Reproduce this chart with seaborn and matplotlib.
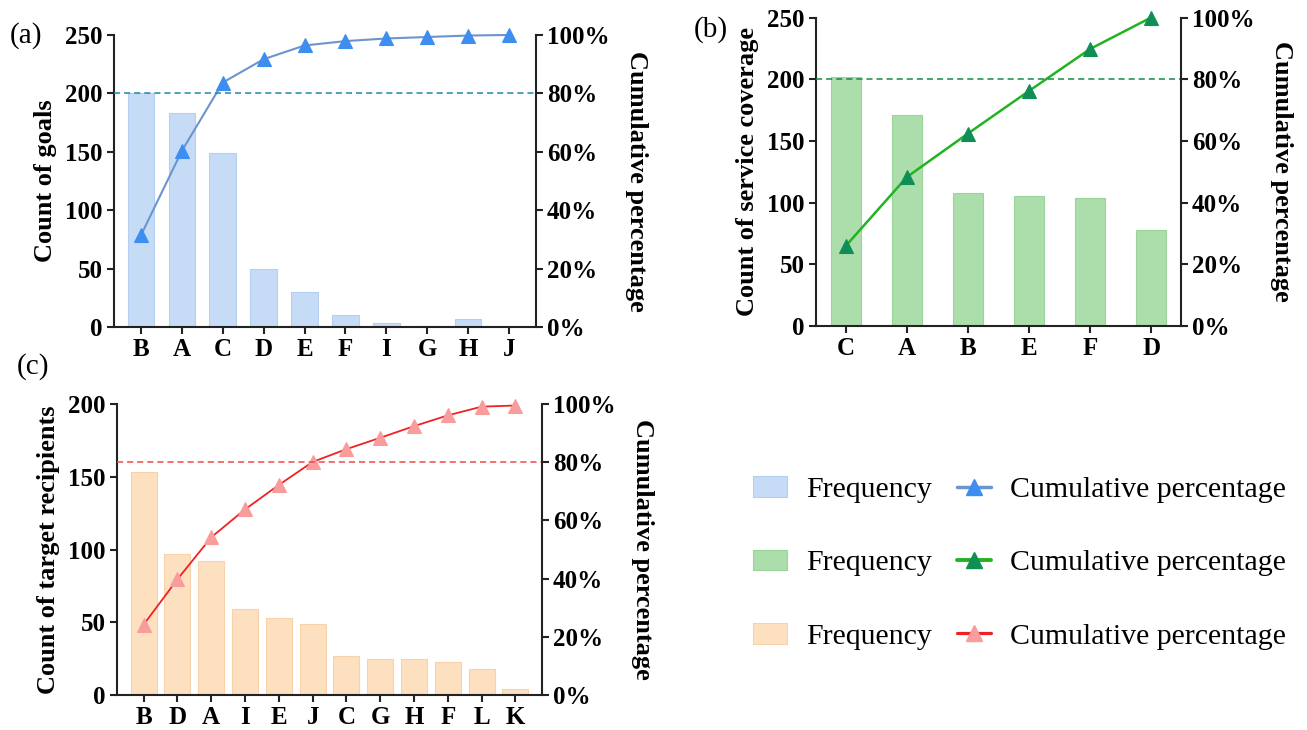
import numpy as np
import matplotlib
matplotlib.use('Agg')
import matplotlib.pyplot as plt
import seaborn as sns
from matplotlib.patches import Patch
from matplotlib.lines import Line2D
from matplotlib.ticker import FuncFormatter, MultipleLocator

# (a) goals
goal_cats = ['B', 'A', 'C', 'D', 'E', 'F', 'I', 'G', 'H', 'J']
goal_counts = [200, 183, 149, 50, 30, 10, 3, 1, 7, 0]
goal_cum = [31.4, 60.3, 83.7, 91.7, 96.4, 97.9, 98.8, 99.3, 99.8, 100.0]

# (b) service coverage
serv_cats = ['C', 'A', 'B', 'E', 'F', 'D']
serv_counts = [202, 171, 108, 105, 104, 78]
serv_cum = [26.0, 48.3, 62.4, 76.2, 89.8, 100.0]

# (c) target recipients
recip_cats = ['B', 'D', 'A', 'I', 'E', 'J', 'C', 'G', 'H', 'F', 'L', 'K']
recip_counts = [153, 97, 92, 59, 53, 49, 27, 25, 25, 23, 18, 4]
recip_cum = [24.2, 39.8, 54.2, 63.8, 72.2, 80.1, 84.5, 88.4, 92.4, 96.1, 99.1, 99.5]

sns.set_theme(style='ticks')
plt.rcParams['font.family'] = ['Liberation Serif', 'DejaVu Serif']
plt.rcParams['font.weight'] = 'bold'
plt.rcParams['axes.labelweight'] = 'bold'
plt.rcParams['text.color'] = 'black'
plt.rcParams['axes.labelcolor'] = 'black'
plt.rcParams['axes.linewidth'] = 1.5
plt.rcParams['axes.edgecolor'] = '#222222'
for k in ['xtick', 'ytick']:
    plt.rcParams[k + '.major.width'] = 1.5
    plt.rcParams[k + '.major.size'] = 5
    plt.rcParams[k + '.major.pad'] = 3
    plt.rcParams[k + '.color'] = '#222222'
    plt.rcParams[k + '.labelcolor'] = 'black'
    plt.rcParams[k + '.labelsize'] = 18

styles = {
    'a': dict(bar='#c6dcf6', edge='#b4cff0', line='#6b95cc', mark='#3d8ef0', dash='#1f88a8', lw=1.5),
    'b': dict(bar='#acdeac', edge='#9ad49a', line='#22b322', mark='#0f8f56', dash='#158a4a', lw=1.8),
    'c': dict(bar='#fde0c0', edge='#f8d2aa', line='#ee2222', mark='#f89c9c', dash='#f04848', lw=1.3),
}


def pareto(ax, cats, counts, cum, st, ymax, bar_w, margin, ylab):
    sns.barplot(x=cats, y=counts, order=cats, color=st['bar'], edgecolor=st['edge'],
                linewidth=0.8, width=bar_w, saturation=1, errorbar=None, ax=ax)
    ax2 = ax.twinx()
    sns.lineplot(x=np.arange(len(cats)), y=cum, ax=ax2, color=st['line'], lw=st['lw'],
                 marker='^', markersize=9.5, markerfacecolor=st['mark'],
                 markeredgecolor=st['mark'], markeredgewidth=0.8, clip_on=False)
    ax2.axhline(80, color=st['dash'], lw=1.1, dashes=(4, 2.6))
    ax.set_xlim(-margin, len(cats) - 1 + margin)
    ax.set_ylim(0, ymax)
    ax.yaxis.set_major_locator(MultipleLocator(50))
    ax2.set_ylim(0, 100)
    ax2.yaxis.set_major_locator(MultipleLocator(20))
    ax2.yaxis.set_major_formatter(FuncFormatter(lambda v, p: f'{v:.0f}%'))
    ax.spines['top'].set_visible(False)
    ax.spines['right'].set_visible(False)
    for s in ['top', 'left', 'bottom']:
        ax2.spines[s].set_visible(False)
    ax.set_xlabel('')
    ax.set_ylabel(ylab, fontsize=19, labelpad=6)
    ax2.set_ylabel('Cumulative percentage', fontsize=19, rotation=270, va='bottom', labelpad=11)
    return ax2


fig = plt.figure(figsize=(13.07, 7.30), dpi=100)
ax_a = fig.add_axes([0.0872, 0.5521, 0.3229, 0.400])
ax_b = fig.add_axes([0.6243, 0.5534, 0.2793, 0.4226])
ax_c = fig.add_axes([0.0895, 0.0479, 0.3252, 0.3986])

pareto(ax_a, goal_cats, goal_counts, goal_cum, styles['a'], 250, 0.65, 0.66, 'Count of goals')
pareto(ax_b, serv_cats, serv_counts, serv_cum, styles['b'], 250, 0.5, 0.49, 'Count of service coverage')
pareto(ax_c, recip_cats, recip_counts, recip_cum, styles['c'], 200, 0.77, 0.79, 'Count of target recipients')

fig.text(10 / 1307, 1 - 36 / 730, '(a)', fontsize=21, fontweight='normal', ha='left', va='center')
fig.text(694 / 1307, 1 - 30 / 730, '(b)', fontsize=21, fontweight='normal', ha='left', va='center')
fig.text(17 / 1307, 1 - 367 / 730, '(c)', fontsize=21, fontweight='normal', ha='left', va='center')

handles = []
for key in ['a', 'b', 'c']:
    st = styles[key]
    handles.append(Patch(facecolor=st['bar'], edgecolor=st['edge'], lw=0.8))
for key in ['a', 'b', 'c']:
    st = styles[key]
    handles.append(Line2D([], [], color=st['line'], lw=st['lw'] + 1.0, marker='^', markersize=11,
                          markerfacecolor=st['mark'], markeredgecolor=st['mark']))
labels = ['Frequency'] * 3 + ['Cumulative percentage'] * 3
fig.legend(handles, labels, ncol=2, loc='center left', bbox_to_anchor=(753 / 1307, 1 - 563 / 730),
           frameon=False, prop={'family': 'Liberation Serif', 'size': 21.5, 'weight': 'normal'},
           handlelength=1.15, handletextpad=0.63, columnspacing=0.83, labelspacing=1.55,
           borderpad=0, borderaxespad=0)

fig.savefig('out.png', dpi=100)
